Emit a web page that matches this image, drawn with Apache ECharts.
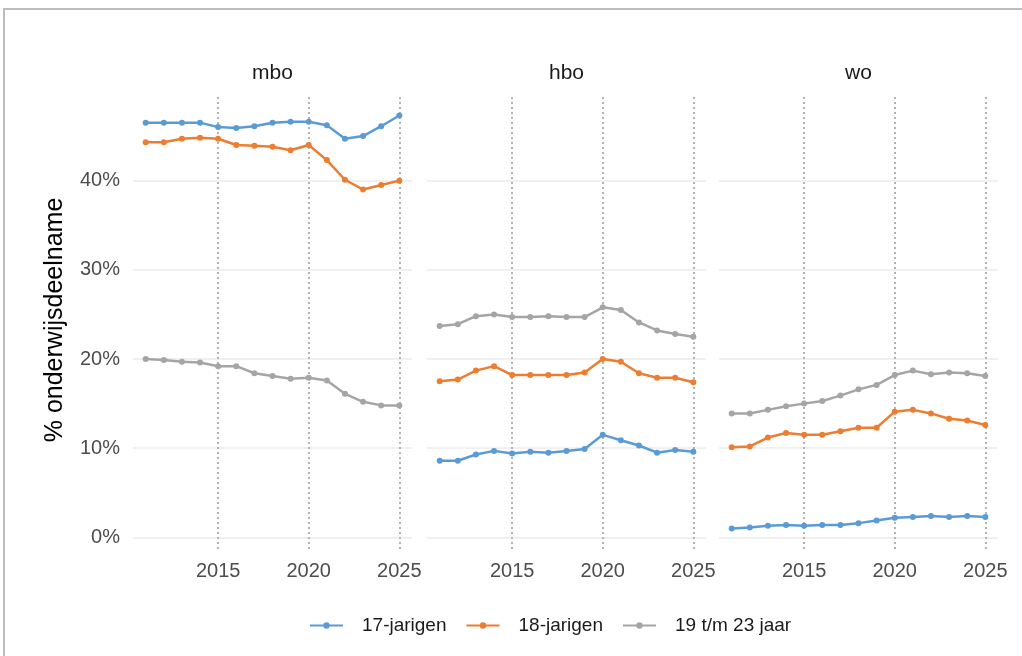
<!DOCTYPE html>
<html>
<head>
<meta charset="utf-8">
<script src="https://cdn.jsdelivr.net/npm/echarts@6/dist/echarts.min.js"></script>
<style>
  html, body { margin: 0; padding: 0; background: #fff; }
  #chart { width: 1022px; height: 656px; }
</style>
</head>
<body>
<div id="chart"></div>
<script>
// data
var years = [2011, 2012, 2013, 2014, 2015, 2016, 2017, 2018, 2019, 2020, 2021, 2022, 2023, 2024, 2025];
var panels = ['mbo', 'hbo', 'wo'];
var seriesNames = ['17-jarigen', '18-jarigen', '19 t/m 23 jaar'];
var xTicks = [2015, 2020, 2025];
var yTicks = [0, 10, 20, 30, 40];

var mbo17 = [46.5, 46.5, 46.5, 46.5, 46.0, 45.9, 46.1, 46.5, 46.6, 46.6, 46.2, 44.7, 45.0, 46.1, 47.3];
var mbo18 = [44.3, 44.3, 44.7, 44.8, 44.7, 44.0, 43.9, 43.8, 43.4, 44.0, 42.3, 40.1, 39.0, 39.5, 40.0];
var mbo19 = [20.0, 19.9, 19.7, 19.6, 19.2, 19.2, 18.4, 18.1, 17.8, 17.9, 17.6, 16.1, 15.2, 14.8, 14.8];
var hbo17 = [8.6, 8.6, 9.3, 9.7, 9.4, 9.6, 9.5, 9.7, 9.9, 11.5, 10.9, 10.3, 9.5, 9.8, 9.6];
var hbo18 = [17.5, 17.7, 18.7, 19.2, 18.2, 18.2, 18.2, 18.2, 18.5, 20.0, 19.7, 18.4, 17.9, 17.9, 17.4];
var hbo19 = [23.7, 23.9, 24.8, 25.0, 24.7, 24.7, 24.8, 24.7, 24.7, 25.8, 25.5, 24.1, 23.2, 22.8, 22.5];
var wo17 = [1.0, 1.1, 1.3, 1.4, 1.3, 1.4, 1.4, 1.6, 1.9, 2.2, 2.3, 2.4, 2.3, 2.4, 2.3];
var wo18 = [10.1, 10.2, 11.2, 11.7, 11.5, 11.5, 11.9, 12.3, 12.3, 14.1, 14.3, 13.9, 13.3, 13.1, 12.6];
var wo19 = [13.9, 13.9, 14.3, 14.7, 15.0, 15.3, 15.9, 16.6, 17.1, 18.2, 18.7, 18.3, 18.5, 18.4, 18.1];

var panelData = [[mbo17, mbo18, mbo19], [hbo17, hbo18, hbo19], [wo17, wo18, wo19]];
var colors = ['#5B9BD5', '#ED7D31', '#A5A5A5'];

var font = 'Liberation Sans, Arial, sans-serif';
var gridLefts = [133, 427, 719];
var gridW = 279;

function pairs(arr) {
	return years.map(function (y, i) { return [y, arr[i]]; });
}

var grids = [], xAxes = [], yAxes = [], series = [], graphics = [];

panels.forEach(function (p, k) {
	grids.push({ left: gridLefts[k], width: gridW, top: 95, height: 454 });
	xAxes.push({
		type: 'value', gridIndex: k, min: 2010.3, max: 2025.7,
		axisLine: { show: false }, axisTick: { show: false, customValues: xTicks },
		splitLine: { show: false },
		axisLabel: {
			customValues: xTicks, color: '#4d4d4d', fontSize: 20, fontFamily: font, margin: 12,
			formatter: function (v) { return String(v); }
		}
	});
	yAxes.push({
		type: 'value', gridIndex: k, min: -1.3, max: 49.6,
		axisLine: { show: false }, axisTick: { show: false, customValues: yTicks },
		splitLine: { show: false },
		axisLabel: {
			show: k === 0, customValues: yTicks, color: '#4d4d4d', fontSize: 20, fontFamily: font, margin: 13,
			formatter: function (v) { return v + '%'; }
		}
	});
	// gridlines drawn as marklines so they sit on the right values
	series.push({
		type: 'line', xAxisIndex: k, yAxisIndex: k, data: [], silent: true, z: 1,
		markLine: {
			silent: true, symbol: 'none', label: { show: false }, animation: false, z: 1,
			data: yTicks.map(function (t) {
				return { yAxis: t, lineStyle: { color: '#ebebeb', width: 1.5, type: 'solid' } };
			}).concat(xTicks.map(function (t) {
				return { xAxis: t, lineStyle: { color: '#b3b3b3', width: 2, type: [2, 3] } };
			}))
		}
	});
	panelData[k].forEach(function (arr, j) {
		series.push({
			name: seriesNames[j], type: 'line', xAxisIndex: k, yAxisIndex: k, z: 3,
			data: pairs(arr), color: colors[j],
			symbol: 'circle', symbolSize: 6, lineStyle: { width: 2.5 },
			animation: false
		});
	});
	graphics.push({
		type: 'text', x: gridLefts[k] + gridW / 2, y: 73,
		style: { text: p, align: 'center', verticalAlign: 'middle', textAlign: 'center', textVerticalAlign: 'middle',
			fontSize: 21, fontFamily: font, fill: '#1a1a1a' }
	});
});

graphics.push({
	type: 'text', x: 55, y: 320, rotation: Math.PI / 2,
	style: { text: '% onderwijsdeelname', align: 'center', verticalAlign: 'middle', textAlign: 'center', textVerticalAlign: 'middle',
		fontSize: 25, fontFamily: font, fill: '#000' }
});
graphics.push({
	type: 'rect', shape: { x: 4, y: 9, width: 1100, height: 700 }, z: -1,
	style: { fill: 'none', stroke: '#bdbdbd', lineWidth: 2 }
});

var myChart = echarts.init(document.getElementById('chart'));
var option = {
	backgroundColor: '#fff',
	animation: false,
	grid: grids,
	xAxis: xAxes,
	yAxis: yAxes,
	legend: {
		data: seriesNames, top: 611, left: 304,
		itemWidth: 33, itemHeight: 8, itemGap: 19,
		textStyle: { fontSize: 19, fontFamily: font, color: '#1a1a1a', padding: [0, 0, 0, 14] }
	},
	graphic: graphics,
	series: series
};
myChart.setOption(option);
</script>
</body>
</html>
